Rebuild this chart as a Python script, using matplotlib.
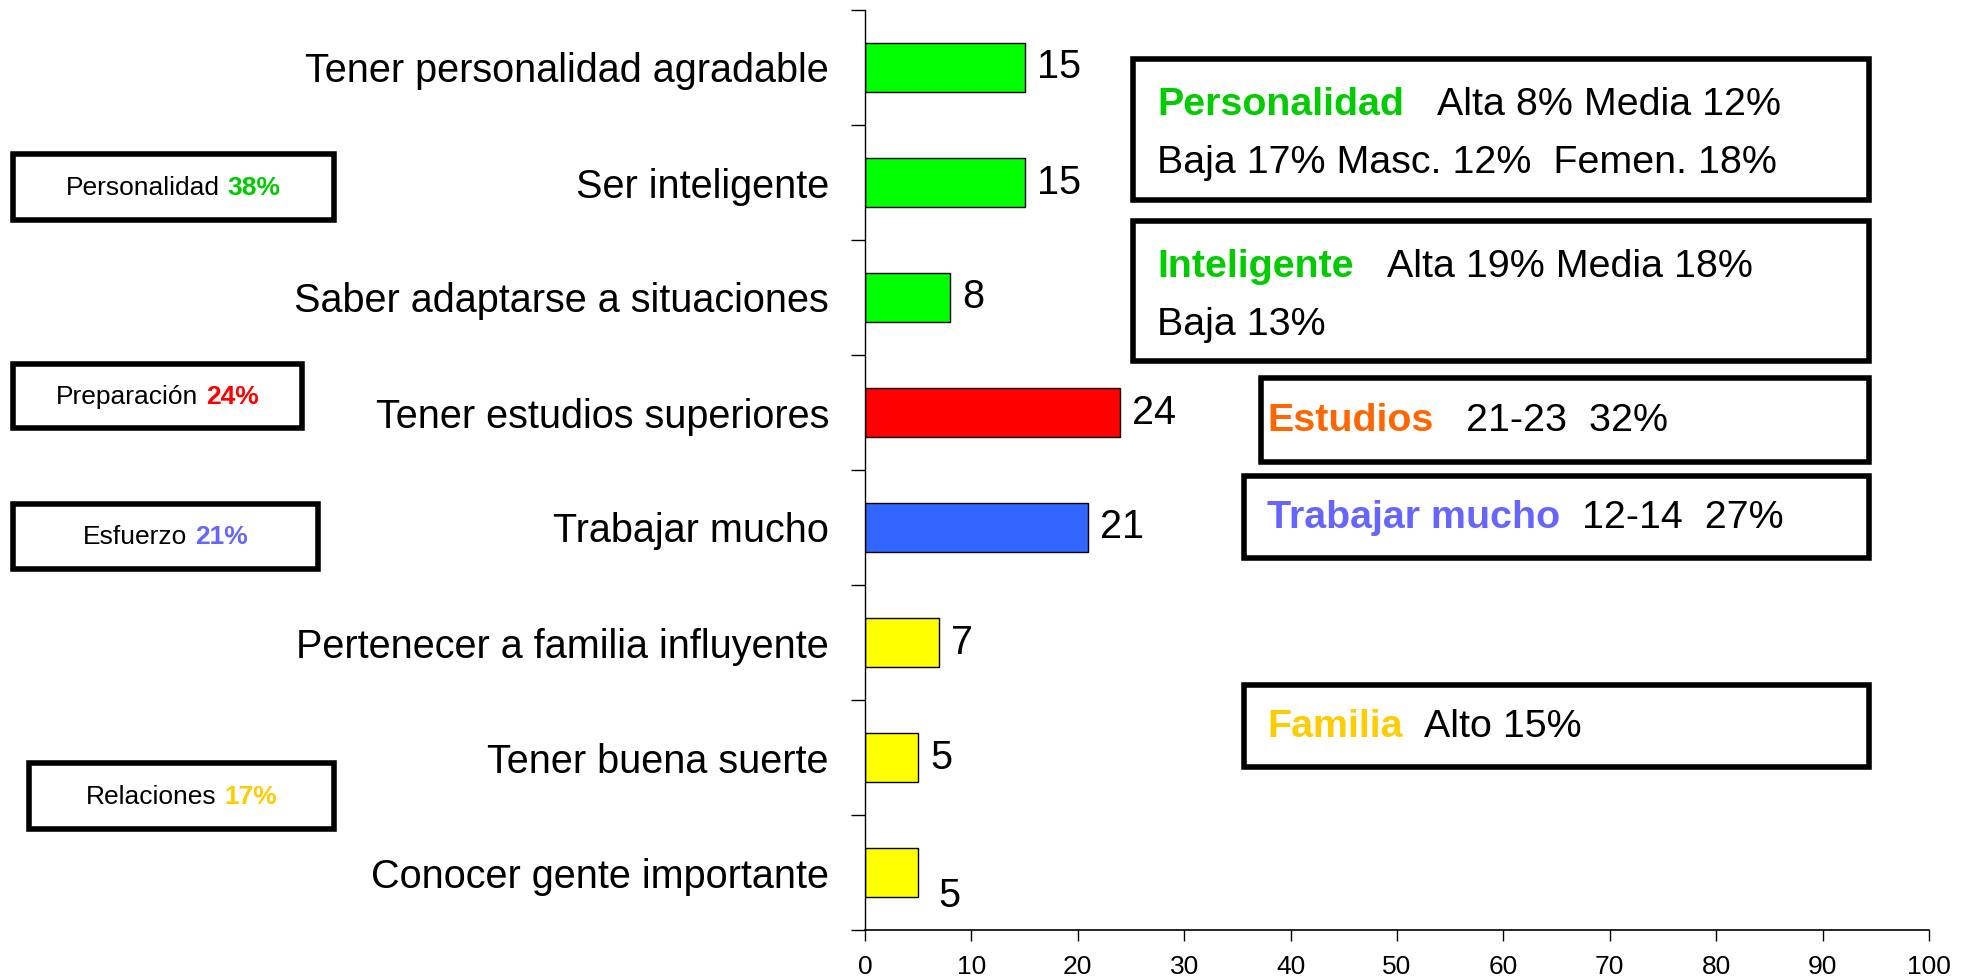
import matplotlib.pyplot as plt
from matplotlib.patches import Rectangle

# data
categories = ['Tener personalidad agradable', 'Ser inteligente',
              'Saber adaptarse a situaciones', 'Tener estudios superiores',
              'Trabajar mucho', 'Pertenecer a familia influyente',
              'Tener buena suerte', 'Conocer gente importante']
values = [15, 15, 8, 24, 21, 7, 5, 5]
bar_colors = ['#00FF00', '#00FF00', '#00FF00', '#FF0000', '#3366FF',
              '#FFFF00', '#FFFF00', '#FFFF00']
xticks = list(range(0, 101, 10))

# left summary boxes: (label, percent, colour)
groups = ['Personalidad', 'Preparación', 'Esfuerzo', 'Relaciones']
group_pct = ['38%', '24%', '21%', '17%']
group_colors = ['#00CC00', '#FF0000', '#6666FF', '#FFCC00']

# right note boxes, each line is a list of (text, colour, bold)
notes = [
    [[('Personalidad', '#00CC00', True), ('Alta 8% Media 12%', 'black', False)],
     [('Baja 17% Masc. 12%  Femen. 18%', 'black', False)]],
    [[('Inteligente', '#00CC00', True), ('Alta 19% Media 18%', 'black', False)],
     [('Baja 13%', 'black', False)]],
    [[('Estudios', '#FF6600', True), ('21-23  32%', 'black', False)]],
    [[('Trabajar mucho', '#6666FF', True), ('12-14  27%', 'black', False)]],
    [[('Familia', '#FFCC00', True), ('Alto 15%', 'black', False)]],
]
note_gaps = [3, 3, 3, 2, 2]

plt.rcParams['font.family'] = ['Liberation Sans', 'DejaVu Sans']

W, H = 1981, 980
fig = plt.figure(figsize=(W / 100, H / 100), dpi=100)
ax = fig.add_axes([865 / W, 1 - 930 / H, (1929 - 865) / W, (930 - 10) / H])

pos = list(range(len(categories)))
ax.barh(pos, values, height=0.42, color=bar_colors, edgecolor='black', linewidth=1)
for i, v in enumerate(values):
    # the last label sits a bit lower in the original
    dy = -23 if i == len(values) - 1 else 0
    dx = 20 if i == len(values) - 1 else 12
    ax.annotate(str(v), (v, i), xytext=(dx, dy), textcoords='offset pixels',
                va='center', ha='left', fontsize=28.5)

ax.set_ylim(len(categories) - 0.5, -0.5)
ax.set_xlim(0, 100)
ax.set_yticks([p - 0.5 for p in pos] + [len(categories) - 0.5])
ax.set_yticklabels([])
ax.set_yticks(pos, minor=True)
ax.set_yticklabels(categories, minor=True, fontsize=28.5)
ax.tick_params(axis='y', which='major', direction='out', length=10, width=1)
ax.tick_params(axis='y', which='minor', length=0, pad=26)
ax.set_xticks(xticks)
ax.tick_params(axis='x', direction='out', length=8, width=1, labelsize=19, pad=10)
for s in ['top', 'right']:
    ax.spines[s].set_visible(False)
ax.spines['left'].set_linewidth(1)
ax.spines['bottom'].set_linewidth(1.2)

renderer = fig.canvas.get_renderer()


def box(x0, y0, x1, y1):
    fig.patches.append(Rectangle((x0 / W, 1 - y1 / H), (x1 - x0) / W, (y1 - y0) / H,
                                 transform=fig.transFigure, fill=False,
                                 edgecolor='black', linewidth=4))


def width_of(txt, size, bold):
    t = fig.text(0, 0, txt, fontsize=size, fontweight='bold' if bold else 'normal')
    w = t.get_window_extent(renderer).width
    t.remove()
    return w


def colored_line(x, y, parts, size, gap, ha='left'):
    sp = width_of('x x', size, False) - width_of('xx', size, False)
    widths = [width_of(p[0], size, p[2]) for p in parts]
    total = sum(widths) + sp * gap * (len(parts) - 1)
    if ha == 'center':
        x = x - total / 2
    for (txt, col, bold), w in zip(parts, widths):
        fig.text(x / W, 1 - y / H, txt, fontsize=size, color=col,
                 fontweight='bold' if bold else 'normal', va='center')
        x += w + sp * gap


# left boxes
left_boxes = [(13, 154, 334, 220), (13, 364, 302, 428), (13, 504, 318, 569), (29, 763, 334, 829)]
for (x0, y0, x1, y1), g, p, c in zip(left_boxes, groups, group_pct, group_colors):
    box(x0, y0, x1, y1)
    colored_line((x0 + x1) / 2, (y0 + y1) / 2 + 1,
                 [(g, 'black', False), (p, c, True)], 19, 1, ha='center')

# right boxes
right_boxes = [(1133, 59, 1869, 200), (1133, 221, 1869, 361), (1261, 378, 1869, 462),
               (1244, 476, 1869, 558), (1244, 685, 1869, 767)]
text_x = [1157, 1157, 1267, 1267, 1267]
for (x0, y0, x1, y1), lines, gap, tx in zip(right_boxes, notes, note_gaps, text_x):
    box(x0, y0, x1, y1)
    if len(lines) == 2:
        ys = [y0 + 46, y0 + 104]
    else:
        ys = [(y0 + y1) / 2 + 1]
    for line, yy in zip(lines, ys):
        colored_line(tx, yy, line, 28.4, gap)

fig.savefig('out.png', dpi=100)
